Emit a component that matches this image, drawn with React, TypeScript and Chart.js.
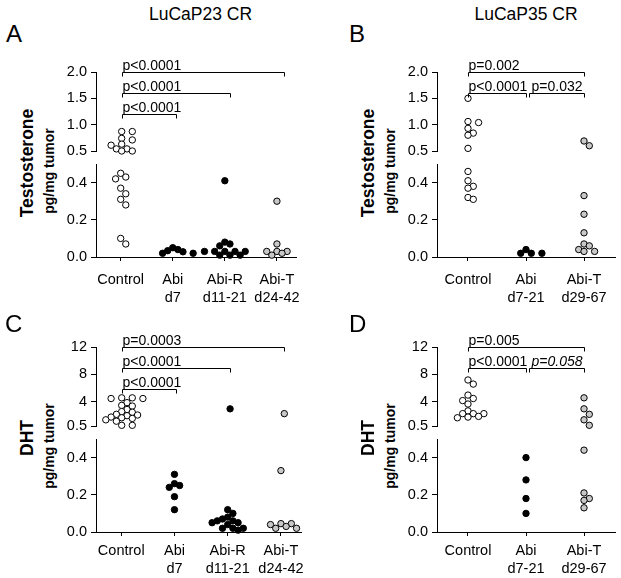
import React, { useEffect, useRef } from 'react';
import { Chart, registerables } from 'chart.js';

Chart.register(...registerables);

const FONT = '"Liberation Sans", Arial, Helvetica, sans-serif';

// ---------------- data ----------------
const catsA: (string | string[])[] = ['Control', ['Abi', 'd7'], ['Abi-R', 'd11-21'], ['Abi-T', 'd24-42']];
const catsB: (string | string[])[] = ['Control', ['Abi', 'd7-21'], ['Abi-T', 'd29-67']];

// Panel A: LuCaP23 CR testosterone (pg/mg tumor)
const testoA_control = [0.87, 0.87, 0.74, 0.71, 0.63, 0.61, 0.54, 0.54, 0.5, 0.5, 0.45, 0.43, 0.42, 0.37, 0.34, 0.31, 0.28, 0.1, 0.07];
const testoA_abi = [0.05, 0.04, 0.034, 0.028, 0.02, 0.02];
const testoA_abiR = [0.41, 0.08, 0.07, 0.06, 0.03, 0.03, 0.03, 0.03, 0.03, 0.01, 0.01, 0.01];
const testoA_abiT = [0.3, 0.07, 0.03, 0.03, 0.03, 0.02, 0.01];

// Panel B: LuCaP35 CR testosterone
const testoB_control = [1.5, 1.06, 1.04, 0.93, 0.84, 0.8, 0.55, 0.46, 0.41, 0.38, 0.37, 0.32, 0.31];
const testoB_abi = [0.04, 0.02, 0.02, 0.02];
const testoB_abiT = [0.69, 0.6, 0.33, 0.23, 0.13, 0.07, 0.06, 0.04, 0.03, 0.03];

// Panel C: LuCaP23 CR DHT
const dhtC_control = [4.6, 4.6, 4.5, 4.5, 3.9, 3.5, 3.4, 2.9, 2.6, 2.5, 2.2, 2.1, 2.0, 1.8, 1.7, 1.6, 1.4, 1.2, 0.6, 0.6];
const dhtC_abi = [0.31, 0.26, 0.25, 0.24, 0.19, 0.12];
const dhtC_abiR = [3.0, 0.12, 0.1, 0.08, 0.07, 0.06, 0.06, 0.05, 0.05, 0.04, 0.02, 0.02, 0.02, 0.01];
const dhtC_abiT = [2.3, 0.33, 0.045, 0.045, 0.04, 0.03, 0.02, 0.02];

// Panel D: LuCaP35 CR DHT
const dhtD_control = [7.2, 6.6, 5.0, 4.5, 4.2, 3.7, 2.7, 2.3, 2.3, 2.3, 1.9, 1.8, 1.7];
const dhtD_abi = [0.4, 0.28, 0.18, 0.1];
const dhtD_abiT = [4.6, 3.0, 2.2, 1.4, 0.6, 0.44, 0.21, 0.18, 0.17, 0.13];

const testoTicks = [0.5, 1.0, 1.5, 2.0];
const dhtTicks = [0.5, 4, 8, 12];
const BREAK = 0.5;

const WHITE = '#ffffff';
const BLACK = '#000000';
const GREY = '#c8c8c8';

type Bracket = { from: number; to: number; level: number; text: string; italic?: boolean; gap?: boolean };

const bracketsA: Bracket[] = [
  { from: 1, to: 4, level: 0, text: 'p<0.0001' },
  { from: 1, to: 3, level: 1, text: 'p<0.0001' },
  { from: 1, to: 2, level: 2, text: 'p<0.0001' },
];
const bracketsB: Bracket[] = [
  { from: 1, to: 3, level: 0, text: 'p=0.002' },
  { from: 1, to: 2, level: 1, text: 'p<0.0001' },
  { from: 2, to: 3, level: 1, text: 'p=0.032', gap: true },
];
const bracketsC: Bracket[] = [
  { from: 1, to: 4, level: 0, text: 'p=0.0003' },
  { from: 1, to: 3, level: 1, text: 'p<0.0001' },
  { from: 1, to: 2, level: 2, text: 'p<0.0001' },
];
const bracketsD: Bracket[] = [
  { from: 1, to: 3, level: 0, text: 'p=0.005' },
  { from: 1, to: 2, level: 1, text: 'p<0.0001' },
  { from: 2, to: 3, level: 1, text: 'p=0.058', italic: true, gap: true },
];

// ---------------- layout ----------------
type Group = { values: number[]; fill: string };
interface Panel {
  letter: string;
  title?: string;
  yTitle1: string;
  yTitle2: string;
  cats: (string | string[])[];
  groups: Group[];
  upperMax: number;
  upperTicks: number[];
  brackets: Bracket[];
  x0: number; x1: number; axisLeft: number; plotRight: number;
  upTop: number; upBottom: number; lowTop: number; lowBottom: number;
  xMin: number; xMax: number;
  labelPad: number;
  letterLeft: number; letterTop: number;
}

const panels: Panel[] = [
  {
    letter: 'A', title: 'LuCaP23 CR', yTitle1: 'Testosterone', yTitle2: 'pg/mg tumor', cats: catsA,
    groups: [
      { values: testoA_control, fill: WHITE }, { values: testoA_abi, fill: BLACK },
      { values: testoA_abiR, fill: BLACK }, { values: testoA_abiT, fill: GREY },
    ],
    upperMax: 2.0, upperTicks: testoTicks, brackets: bracketsA,
    x0: 0, x1: 310, axisLeft: 96, plotRight: 305, upTop: 72, upBottom: 151, lowTop: 164, lowBottom: 257,
    xMin: 0.526, xMax: 4.382, labelPad: 10, letterLeft: 6, letterTop: 22,
  },
  {
    letter: 'B', title: 'LuCaP35 CR', yTitle1: 'Testosterone', yTitle2: 'pg/mg tumor', cats: catsB,
    groups: [
      { values: testoB_control, fill: WHITE }, { values: testoB_abi, fill: BLACK }, { values: testoB_abiT, fill: GREY },
    ],
    upperMax: 2.0, upperTicks: testoTicks, brackets: bracketsB,
    x0: 310, x1: 621, axisLeft: 437, plotRight: 615, upTop: 72, upBottom: 151, lowTop: 164, lowBottom: 257,
    xMin: 0.466, xMax: 3.534, labelPad: 10, letterLeft: 349, letterTop: 22,
  },
  {
    letter: 'C', yTitle1: 'DHT', yTitle2: 'pg/mg tumor', cats: catsA,
    groups: [
      { values: dhtC_control, fill: WHITE }, { values: dhtC_abi, fill: BLACK },
      { values: dhtC_abiR, fill: BLACK }, { values: dhtC_abiT, fill: GREY },
    ],
    upperMax: 12, upperTicks: dhtTicks, brackets: bracketsC,
    x0: 0, x1: 310, axisLeft: 96, plotRight: 305, upTop: 347, upBottom: 426, lowTop: 439, lowBottom: 532,
    xMin: 0.526, xMax: 4.382, labelPad: 6, letterLeft: 5, letterTop: 312,
  },
  {
    letter: 'D', yTitle1: 'DHT', yTitle2: 'pg/mg tumor', cats: catsB,
    groups: [
      { values: dhtD_control, fill: WHITE }, { values: dhtD_abi, fill: BLACK }, { values: dhtD_abiT, fill: GREY },
    ],
    upperMax: 12, upperTicks: dhtTicks, brackets: bracketsD,
    x0: 310, x1: 621, axisLeft: 437, plotRight: 615, upTop: 347, upBottom: 426, lowTop: 439, lowBottom: 532,
    xMin: 0.466, xMax: 3.534, labelPad: 6, letterLeft: 349, letterTop: 312,
  },
];

const UP_PAD_TOP = 58;
const UP_PAD_BOTTOM = 14;
const LOW_PAD_TOP = 14;
const X_AXIS_H = 50;
const STEP = 5.3;
const DIAM = 5.6;
const TICK_FONT = { family: FONT, size: 14.5, lineHeight: 1.25 };

// beeswarm offsets (in pixels) computed from the values
function swarm(values: number[], yPix: (v: number) => number): number[] {
  const order = values.map((_, i) => i).sort((a, b) => values[b] - values[a]);
  const placed: { x: number; y: number }[] = [];
  const out = values.map(() => 0);
  for (const i of order) {
    const y = yPix(values[i]);
    for (let k = 0; k < 60; k++) {
      const off = k === 0 ? 0 : (k % 2 === 1 ? 1 : -1) * Math.ceil(k / 2) * STEP;
      if (placed.every((p) => Math.hypot(p.x - off, p.y - y) >= DIAM - 1e-6)) {
        out[i] = off;
        placed.push({ x: off, y });
        break;
      }
    }
  }
  return out;
}

function groupPoints(p: Panel) {
  const yPix = (v: number) =>
    v >= BREAK
      ? p.upTop + ((p.upperMax - v) / (p.upperMax - BREAK)) * (p.upBottom - p.upTop)
      : p.lowBottom - (v / BREAK) * (p.lowBottom - p.lowTop);
  const pxPerUnit = (p.plotRight - p.axisLeft) / (p.xMax - p.xMin);
  return p.groups.map((g, gi) => {
    const offs = swarm(g.values, yPix);
    return g.values.map((v, i) => ({ x: gi + 1 + offs[i] / pxPerUnit, y: v }));
  });
}

const bracketPlugin = {
  id: 'brackets',
  afterDraw(chart: any, _args: any, opts: any) {
    const items: Bracket[] = opts.items || [];
    const { ctx, chartArea } = chart;
    const xs = chart.scales.x;
    ctx.save();
    ctx.strokeStyle = '#000';
    ctx.fillStyle = '#000';
    ctx.lineWidth = 1;
    for (const b of items) {
      const y = Math.round(chartArea.top + b.level * 21) + 0.5;
      const xa = Math.round(xs.getPixelForValue(b.from) + (b.gap ? 3 : 0)) + 0.5;
      const xb = Math.round(xs.getPixelForValue(b.to)) + 0.5;
      ctx.beginPath();
      ctx.moveTo(xa, y + 4);
      ctx.lineTo(xa, y);
      ctx.lineTo(xb, y);
      ctx.lineTo(xb, y + 4);
      ctx.stroke();
      ctx.font = `${b.italic ? 'italic ' : ''}14px ${FONT}`;
      ctx.textAlign = 'left';
      ctx.textBaseline = 'alphabetic';
      ctx.fillText(b.text, xa + (b.gap ? 2 : 0), y - 3);
    }
    ctx.restore();
  },
};

function yAxisCommon(p: Panel) {
  return {
    type: 'linear' as const,
    afterFit: (s: any) => { s.width = p.axisLeft - p.x0; },
    border: { display: true, color: '#000', width: 1 },
    grid: { display: true, drawOnChartArea: false, drawTicks: true, tickLength: 5, color: '#000' },
  };
}

function datasetsFor(p: Panel, pts: { x: number; y: number }[][], upper: boolean) {
  return p.groups.map((g, gi) => ({
    data: pts[gi].filter((d) => (upper ? d.y >= BREAK : d.y < BREAK)),
    pointRadius: 3.2,
    pointBorderWidth: 1,
    pointBackgroundColor: g.fill,
    pointBorderColor: '#000',
    showLine: false,
    clip: false as any,
  }));
}

function upperConfig(p: Panel, pts: { x: number; y: number }[][]): any {
  return {
    type: 'scatter',
    data: { datasets: datasetsFor(p, pts, true) },
    options: {
      animation: false,
      responsive: false,
      events: [],
      layout: { padding: { top: UP_PAD_TOP, bottom: UP_PAD_BOTTOM, left: 0, right: p.x1 - p.plotRight } },
      plugins: { legend: { display: false }, tooltip: { enabled: false }, brackets: { items: p.brackets } },
      scales: {
        x: { type: 'linear', display: false, min: p.xMin, max: p.xMax },
        y: {
          ...yAxisCommon(p),
          min: BREAK,
          max: p.upperMax,
          afterBuildTicks: (s: any) => { s.ticks = p.upperTicks.map((v) => ({ value: v })); },
          ticks: {
            color: '#000', font: TICK_FONT, padding: 4,
            callback: (v: number) => (p.upperMax <= 2 ? v.toFixed(1) : v === BREAK ? '0.5' : String(v)),
          },
        },
      },
    },
    plugins: [bracketPlugin],
  };
}

function lowerConfig(p: Panel, pts: { x: number; y: number }[][]): any {
  return {
    type: 'scatter',
    data: { datasets: datasetsFor(p, pts, false) },
    options: {
      animation: false,
      responsive: false,
      events: [],
      layout: { padding: { top: LOW_PAD_TOP, bottom: 0, left: 0, right: p.x1 - p.plotRight } },
      plugins: { legend: { display: false }, tooltip: { enabled: false } },
      scales: {
        x: {
          type: 'linear', position: 'bottom', min: p.xMin, max: p.xMax,
          afterFit: (s: any) => { s.height = X_AXIS_H; },
          afterBuildTicks: (s: any) => { s.ticks = p.cats.map((_, i) => ({ value: i + 1 })); },
          border: { display: true, color: '#000', width: 1 },
          grid: { display: true, drawOnChartArea: false, drawTicks: true, tickLength: 4, color: '#000' },
          ticks: {
            color: '#000', font: TICK_FONT, padding: p.labelPad, autoSkip: false, maxRotation: 0, minRotation: 0,
            callback: (v: number) => p.cats[Math.round(v) - 1] ?? '',
          },
        },
        y: {
          ...yAxisCommon(p),
          min: 0,
          max: BREAK,
          afterBuildTicks: (s: any) => { s.ticks = [0, 0.1, 0.2, 0.3, 0.4, 0.5].map((v) => ({ value: v })); },
          ticks: {
            color: '#000', font: TICK_FONT, padding: 4,
            callback: (v: number) => {
              const n = Math.round(v * 10);
              return n % 2 === 0 && n < 5 ? (n / 10).toFixed(1) : '';
            },
          },
        },
      },
    },
  };
}

function ChartBox(props: { left: number; top: number; width: number; height: number; make: () => any }) {
  const ref = useRef<HTMLCanvasElement>(null);
  useEffect(() => {
    const chart = new Chart(ref.current as HTMLCanvasElement, props.make());
    return () => chart.destroy();
  }, []);
  return (
    <canvas
      ref={ref}
      width={props.width}
      height={props.height}
      style={{ position: 'absolute', left: props.left, top: props.top, width: props.width, height: props.height }}
    />
  );
}

function RotText(props: { cx: number; cy: number; size: number; text: string }) {
  return (
    <div style={{ position: 'absolute', left: props.cx, top: props.cy, width: 0, height: 0 }}>
      <div
        style={{
          position: 'absolute', left: 0, top: 0, whiteSpace: 'nowrap',
          font: `bold ${props.size}px/1 ${FONT}`, color: '#000',
          transform: 'translate(-50%, -50%) rotate(-90deg)',
        }}
      >
        {props.text}
      </div>
    </div>
  );
}

function PanelView({ p }: { p: Panel }) {
  const pts = groupPoints(p);
  const w = p.x1 - p.x0;
  const upCanvasTop = p.upTop - UP_PAD_TOP;
  const upCanvasH = p.upBottom + UP_PAD_BOTTOM - upCanvasTop;
  const lowCanvasTop = p.lowTop - LOW_PAD_TOP;
  const lowCanvasH = p.lowBottom + X_AXIS_H - lowCanvasTop;
  const mid = (p.upTop + p.lowBottom) / 2;
  return (
    <>
      {p.title && (
        <div
          style={{
            position: 'absolute', left: p.axisLeft + (p.plotRight - p.axisLeft) / 2, top: 6,
            transform: 'translateX(-50%)', whiteSpace: 'nowrap', font: `17.5px/1 ${FONT}`, color: '#000',
          }}
        >
          {p.title}
        </div>
      )}
      <div
        style={{
          position: 'absolute', left: p.letterLeft, top: p.letterTop,
          font: `24px/1 ${FONT}`, color: '#000',
        }}
      >
        {p.letter}
      </div>
      <RotText cx={p.axisLeft - 67.6} cy={mid - 2} size={17.5} text={p.yTitle1} />
      <RotText cx={p.axisLeft - 47.3} cy={mid + 6} size={14} text={p.yTitle2} />
      <ChartBox left={p.x0} top={upCanvasTop} width={w} height={upCanvasH} make={() => upperConfig(p, pts)} />
      <ChartBox left={p.x0} top={lowCanvasTop} width={w} height={lowCanvasH} make={() => lowerConfig(p, pts)} />
    </>
  );
}

export default function App() {
  return (
    <div
      style={{
        position: 'absolute', left: 0, top: 0, width: 621, height: 578,
        background: '#fff', overflow: 'hidden',
      }}
    >
      {panels.map((p) => (
        <PanelView key={p.letter} p={p} />
      ))}
    </div>
  );
}
